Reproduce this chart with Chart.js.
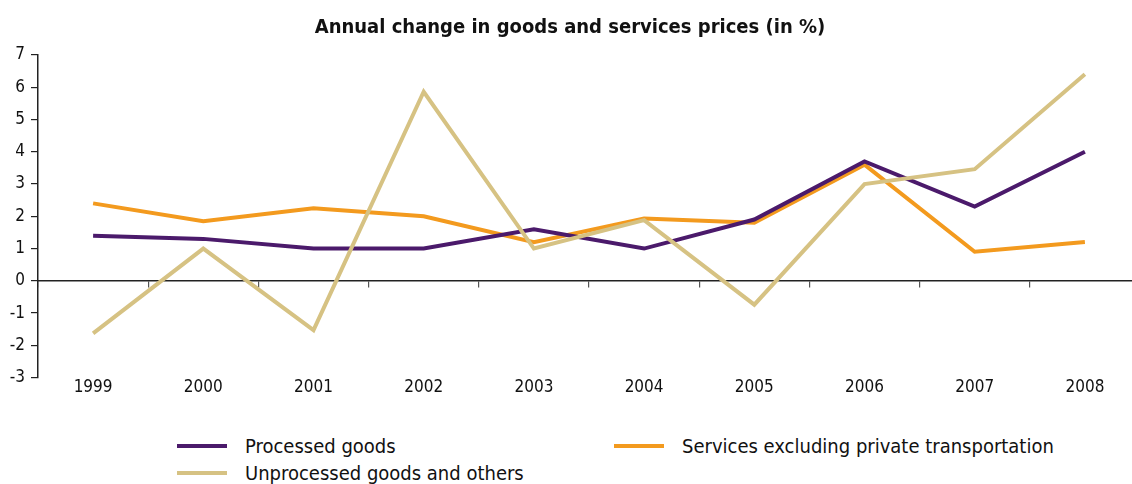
<!DOCTYPE html>
<html>
<head>
<meta charset="utf-8">
<script src="https://cdn.jsdelivr.net/npm/chart.js@4"></script>
<style>
  html, body { margin: 0; padding: 0; background: #fff; overflow: hidden; }
  #wrap { position: relative; width: 1142px; height: 420px; }
  #legend { position: absolute; left: 177px; top: 434px; width: 900px;
            font-family: "DejaVu Sans Condensed", "DejaVu Sans", sans-serif; font-size: 20px; color: #111; }
  .item { position: absolute; display: flex; align-items: center; white-space: nowrap; }
  .swatch { width: 50px; height: 4px; margin-right: 18px; }
</style>
</head>
<body>
<div id="wrap"><canvas id="grafico"></canvas></div>
<div id="legend"></div>
<script>
// datos
var anios = ["1999","2000","2001","2002","2003","2004","2005","2006","2007","2008"];
var procesados = [1.4, 1.3, 1.0, 1.0, 1.6, 1.0, 1.9, 3.7, 2.3, 4.0];
var servicios = [2.4, 1.85, 2.25, 2.0, 1.2, 1.93, 1.8, 3.6, 0.9, 1.2];
var noProcesados = [-1.63, 1.0, -1.53, 5.86, 1.0, 1.88, -0.74, 3.0, 3.46, 6.4];
var nombres = ["Processed goods", "Services excluding private transportation", "Unprocessed goods and others"];
var colores = ["#4b1a6b", "#f39a1e", "#d6c283"];

var fuente = "'DejaVu Sans Condensed', 'DejaVu Sans', sans-serif";
var series = [procesados, servicios, noProcesados];
var orden = [2, 3, 1];

var datasets = [];
for (let i = 0; i < series.length; i++) {
    datasets.push({
        label: nombres[i],
        data: series[i],
        borderColor: colores[i],
        backgroundColor: colores[i],
        borderWidth: 4,
        pointRadius: 0,
        tension: 0,
        order: orden[i]
    });
}

var ctx = document.getElementById('grafico').getContext('2d');
var chart = new Chart(ctx, {
    type: 'line',
    data: { labels: anios, datasets: datasets },
    options: {
        responsive: true,
        maintainAspectRatio: false,
        animation: false,
        layout: { padding: { left: 0, right: 2, top: 0, bottom: 22 } },
        plugins: {
            legend: { display: false },
            tooltip: { enabled: false },
            title: {
                display: true,
                text: 'Annual change in goods and services prices (in %)',
                color: '#111',
                font: { family: fuente, size: 20, weight: 'bold' },
                padding: { top: 16, bottom: 15 }
            }
        },
        scales: {
            x: {
                offset: true,
                grid: { display: false, drawTicks: false },
                border: { display: false },
                ticks: { color: '#111', font: { family: fuente, size: 17 }, padding: 0, maxRotation: 0 }
            },
            cero: {
                type: 'category',
                axis: 'x',
                labels: anios,
                position: { y: 0 },
                offset: true,
                grid: { offset: true, drawOnChartArea: false, drawTicks: true, tickLength: 6, color: '#555', lineWidth: 1.2 },
                border: { display: true, color: '#222', width: 1.5 },
                ticks: { display: false }
            },
            y: {
                min: -3,
                max: 7,
                afterFit: function (scale) { scale.width = 38; },
                ticks: { stepSize: 1, color: '#111', font: { family: fuente, size: 17 }, padding: 6 },
                grid: { drawOnChartArea: false, drawTicks: true, tickLength: 7, color: '#222', lineWidth: 1.2 },
                border: { display: true, color: '#222', width: 1.5 }
            }
        }
    }
});

// leyenda en dos columnas
var leyenda = document.getElementById('legend');
var posiciones = [[0, 0], [437, 0], [0, 27]];
for (let i = 0; i < nombres.length; i++) {
    var item = document.createElement('div');
    item.className = 'item';
    item.style.left = posiciones[i][0] + 'px';
    item.style.top = posiciones[i][1] + 'px';
    item.innerHTML = '<span class="swatch" style="background:' + colores[i] + '"></span>' + nombres[i];
    leyenda.appendChild(item);
}
</script>
</body>
</html>
